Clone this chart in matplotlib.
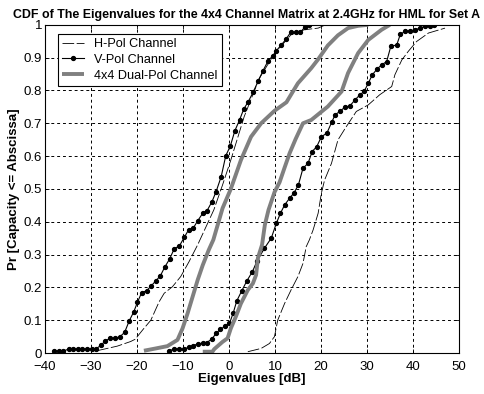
import matplotlib

matplotlib.use("Agg")
import matplotlib.pyplot as plt

# Eigenvalue CDF curves (x in dB, y = probability)
h_low_x = [-28.7, -26.5, -24.3, -21.4, -20.4, -18.8, -17.0, -15.2, -14.1, -12.3, -10.5, -8.7, -6.8, -3.3,
           -1.4, 0.4, 3.3, 6.6, 9.8, 13.5, 16.4, 19.4, 21.0]
h_low_y = [0.007, 0.014, 0.021, 0.035, 0.042, 0.07, 0.10, 0.156, 0.182, 0.202, 0.233, 0.278, 0.33, 0.436,
           0.512, 0.588, 0.72, 0.837, 0.91, 0.97, 0.985, 0.99, 1.0]

h_high_x = [4.1, 7.0, 8.8, 9.9, 10.6, 12.1, 13.5, 15.0, 16.1, 16.8, 17.5, 18.3, 19.4, 20.1, 20.8, 22.3,
            23.7, 25.3, 27.7, 30.3, 32.8, 35.4, 36.1, 37.6, 39.0, 40.8, 43.4, 46.3, 47.0]
h_high_y = [0.004, 0.014, 0.029, 0.05, 0.10, 0.151, 0.192, 0.233, 0.273, 0.324, 0.345, 0.375, 0.426, 0.487,
            0.527, 0.578, 0.649, 0.685, 0.736, 0.756, 0.787, 0.812, 0.848, 0.893, 0.919, 0.949, 0.975, 0.987, 0.99]

v_low_x = [-38.1, -37.0, -36.0, -34.9, -33.9, -32.9, -31.9, -30.9, -29.9, -29.0, -27.9, -26.9, -25.8, -24.7,
           -23.7, -22.7, -21.7, -20.7, -19.9, -19.0, -17.9, -16.9, -15.9, -14.9, -14.0, -12.9, -11.9, -10.8,
           -9.7, -8.8, -7.8, -6.8, -5.7, -4.8, -3.7, -2.8, -1.7, -0.7, 0.3, 1.3, 2.3, 3.2, 4.2, 5.3, 6.4,
           7.4, 8.5, 9.5, 10.3, 11.4, 12.4, 13.4, 14.5, 15.5, 16.5, 17.5]
v_low_y = [0.006, 0.006, 0.006, 0.012, 0.012, 0.012, 0.012, 0.012, 0.012, 0.012, 0.023, 0.037, 0.045, 0.045,
           0.05, 0.063, 0.098, 0.126, 0.155, 0.184, 0.19, 0.205, 0.22, 0.236, 0.261, 0.287, 0.318, 0.326,
           0.353, 0.375, 0.38, 0.403, 0.426, 0.433, 0.461, 0.492, 0.537, 0.601, 0.631, 0.678, 0.71, 0.743,
           0.766, 0.796, 0.83, 0.86, 0.89, 0.905, 0.921, 0.939, 0.956, 0.977, 0.977, 0.977, 0.993, 1.0]

v_high_x = [-13.0, -11.9, -10.8, -9.8, -8.7, -7.8, -6.8, -5.7, -4.8, -3.7, -2.8, -1.9, -0.9, 0.1, 0.9, 1.7,
            2.8, 3.9, 5.1, 6.1, 7.7, 9.2, 10.3, 11.2, 12.1, 13.2, 14.1, 15.1, 16.1, 17.2, 18.1, 19.1, 20.1,
            21.3, 22.4, 23.1, 24.1, 25.2, 26.3, 27.4, 28.5, 29.4, 30.3, 31.2, 32.2, 33.2, 34.3, 35.2, 36.5,
            37.3, 38.4, 39.4, 40.5, 41.6, 42.6, 43.7, 44.5]
v_high_y = [0.007, 0.012, 0.012, 0.012, 0.018, 0.022, 0.028, 0.03, 0.032, 0.043, 0.06, 0.072, 0.081, 0.09,
            0.121, 0.159, 0.19, 0.22, 0.248, 0.28, 0.319, 0.35, 0.395, 0.426, 0.451, 0.472, 0.487, 0.512,
            0.563, 0.578, 0.614, 0.629, 0.659, 0.67, 0.705, 0.726, 0.736, 0.749, 0.753, 0.771, 0.787, 0.797,
            0.822, 0.848, 0.865, 0.878, 0.888, 0.934, 0.939, 0.972, 0.98, 0.982, 0.985, 0.99, 0.995, 0.997, 1.0]

d_low_x = [-18.5, -15.9, -13.4, -11.2, -10.1, -9.0, -7.9, -6.8, -5.7, -4.4, -3.4, -1.4, 0.4, 2.6, 4.8,
           7.0, 9.9, 12.5, 15.0, 17.9, 19.4, 21.5, 23.7, 25.9, 28.1, 30.3]
d_low_y = [0.007, 0.014, 0.021, 0.04, 0.075, 0.121, 0.172, 0.223, 0.268, 0.314, 0.345, 0.441, 0.5, 0.588,
           0.659, 0.70, 0.738, 0.764, 0.822, 0.868, 0.895, 0.937, 0.968, 0.99, 0.997, 1.0]

d_high_x = [-5.7, -3.6, -3.2, -1.4, -0.3, 0.4, 1.5, 2.6, 4.1, 5.2, 5.9, 6.3, 7.2, 7.8, 8.6, 9.9, 11.0,
            12.1, 13.2, 14.5, 16.1, 17.9, 21.5, 24.5, 25.9, 28.1, 30.3, 33.2, 35.0]
d_high_y = [0.004, 0.004, 0.012, 0.034, 0.045, 0.075, 0.111, 0.151, 0.192, 0.212, 0.238, 0.29, 0.33, 0.39,
            0.436, 0.49, 0.52, 0.565, 0.609, 0.652, 0.70, 0.71, 0.751, 0.797, 0.853, 0.914, 0.954, 0.985, 1.0]

plt.rcParams["font.family"] = ["Liberation Sans", "DejaVu Sans"]

fig = plt.figure(figsize=(4.85, 3.94), dpi=100)
ax = fig.add_axes([0.093, 0.104, 0.853, 0.833])

h_style = dict(color="black", linewidth=0.6, linestyle=(0, (14, 3)))
v_style = dict(color="black", linewidth=0.8, marker="o", markersize=2.8)
d_style = dict(color="#808080", linewidth=2.8, solid_capstyle="butt")

ax.plot(h_low_x, h_low_y, label="H-Pol Channel", **h_style)
ax.plot(v_low_x, v_low_y, label="V-Pol Channel", **v_style)
ax.plot(d_low_x, d_low_y, label="4x4 Dual-Pol Channel", **d_style)
ax.plot(h_high_x, h_high_y, **h_style)
ax.plot(v_high_x, v_high_y, **v_style)
ax.plot(d_high_x, d_high_y, **d_style)

ax.set_xlim(-40, 50)
ax.set_ylim(0, 1)
ax.set_xticks(range(-40, 51, 10))
ax.set_yticks([i / 10 for i in range(11)])
ax.set_yticklabels(["0", "0.1", "0.2", "0.3", "0.4", "0.5", "0.6", "0.7", "0.8", "0.9", "1"])
ax.tick_params(direction="in", top=True, right=True, labelsize=9.5, length=3, width=0.6, pad=2)
ax.tick_params(axis="x", pad=6)
ax.grid(True, color="black", linestyle=(0, (3, 3)), linewidth=0.7)
for s in ax.spines.values():
    s.set_linewidth(0.8)

ax.set_xlabel("Eigenvalues [dB]", fontsize=9.5, fontweight="bold", labelpad=0)
ax.set_ylabel("Pr [Capacity <= Abscissa]", fontsize=9.5, fontweight="bold", labelpad=3)
fig.text(0.508, 0.976, "CDF of The Eigenvalues for the 4x4 Channel Matrix at 2.4GHz for HML for Set A",
         fontsize=8.9, fontweight="bold", ha="center", va="top")

leg = ax.legend(loc="upper left", fontsize=9.1, fancybox=False, framealpha=1, edgecolor="black",
                borderaxespad=0, handlelength=1.7, labelspacing=0.3, borderpad=0.35,
                bbox_to_anchor=(0.031, 0.973))
leg.get_frame().set_linewidth(0.8)

fig.savefig("out.png", dpi=100)
